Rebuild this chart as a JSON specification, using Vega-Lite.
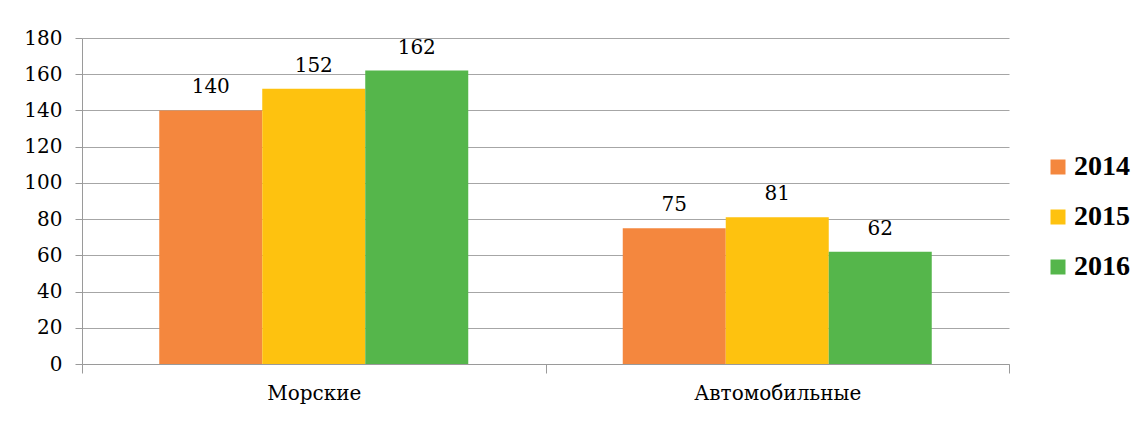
{
  "$schema": "https://vega.github.io/schema/vega-lite/v6.json",
  "width": 927,
  "height": 326,
  "autosize": "none",
  "padding": {"left": 82, "top": 38, "right": 135, "bottom": 57},
  "background": "white",
  "config": {
    "view": {"stroke": null},
    "font": "DejaVu Serif"
  },
  "data": {
    "values": [
      {"type": "Морские", "year": "2014", "value": 140},
      {"type": "Морские", "year": "2015", "value": 152},
      {"type": "Морские", "year": "2016", "value": 162},
      {"type": "Автомобильные", "year": "2014", "value": 75},
      {"type": "Автомобильные", "year": "2015", "value": 81},
      {"type": "Автомобильные", "year": "2016", "value": 62}
    ]
  },
  "encoding": {
    "x": {
      "field": "type",
      "type": "nominal",
      "sort": ["Морские", "Автомобильные"],
      "scale": {"paddingInner": 0, "paddingOuter": 0},
      "axis": {
        "title": null,
        "labelAngle": 0,
        "tickBand": "extent",
        "tickSize": 9,
        "tickColor": "#9a9a9a",
        "domainColor": "#9a9a9a",
        "labelFont": "DejaVu Serif",
        "labelFontSize": 20,
        "labelColor": "#000000",
        "labelPadding": 10,
        "labelLimit": 400,
        "grid": false
      }
    },
    "xOffset": {
      "field": "year",
      "type": "nominal",
      "scale": {"paddingInner": 0, "paddingOuter": 0.75}
    },
    "y": {
      "field": "value",
      "type": "quantitative",
      "scale": {"domain": [0, 180], "nice": false},
      "axis": {
        "title": null,
        "values": [0, 20, 40, 60, 80, 100, 120, 140, 160, 180],
        "grid": true,
        "gridColor": "#a6a6a6",
        "tickSize": 7,
        "tickColor": "#9a9a9a",
        "domainColor": "#9a9a9a",
        "labelFont": "DejaVu Serif",
        "labelFontSize": 20,
        "labelColor": "#000000",
        "labelPadding": 13
      }
    }
  },
  "layer": [
    {
      "mark": {"type": "bar"},
      "encoding": {
        "color": {
          "field": "year",
          "type": "nominal",
          "scale": {
            "domain": ["2014", "2015", "2016"],
            "range": ["#f4873e", "#fec20f", "#55b64b"]
          },
          "legend": {
            "title": null,
            "orient": "none",
            "legendX": 962,
            "legendY": 115,
            "symbolType": "square",
            "symbolSize": 225,
            "symbolStrokeWidth": 0,
            "labelFont": "Liberation Serif",
            "labelFontSize": 28,
            "labelFontWeight": "bold",
            "labelColor": "#000000",
            "labelOffset": 2,
            "rowPadding": 22
          }
        }
      }
    },
    {
      "mark": {"type": "text", "baseline": "alphabetic", "dy": -17, "fontSize": 20, "color": "#000000", "font": "DejaVu Serif"},
      "encoding": {
        "text": {"field": "value", "type": "quantitative"}
      }
    }
  ]
}
